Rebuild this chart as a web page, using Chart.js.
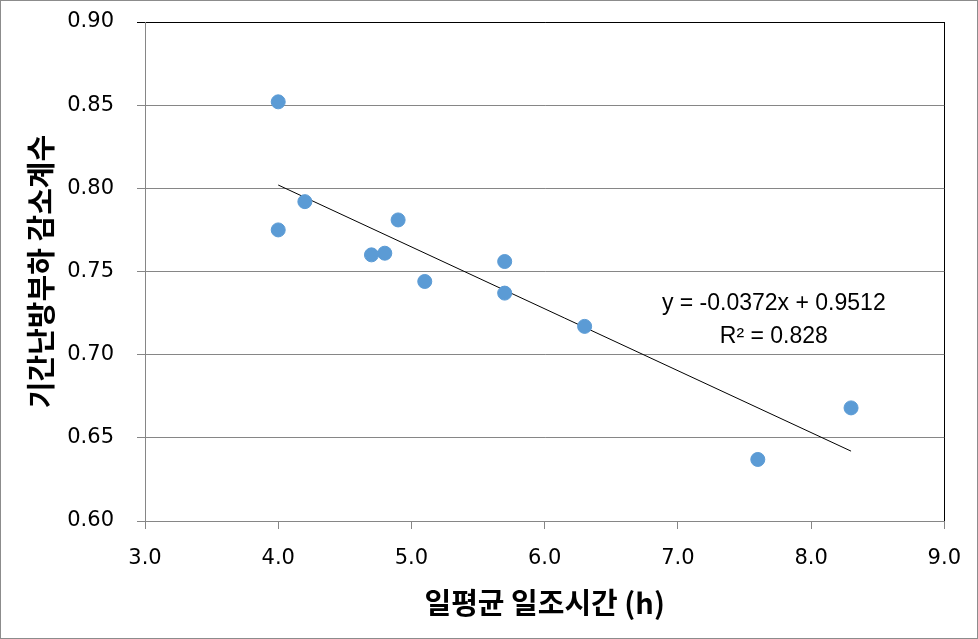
<!DOCTYPE html>
<html>
<head>
<meta charset="utf-8">
<script src="https://cdn.jsdelivr.net/npm/chart.js@4/dist/chart.umd.min.js"></script>
<style>
  body { margin: 0; background: #fff; }
  canvas { display: block; }
</style>
</head>
<body>
<canvas id="chart" width="978" height="639"></canvas>
<script>
// 일평균 일조시간 (h) vs 기간난방부하 감소계수
let sunHours = [4.0, 4.0, 4.2, 4.7, 4.8, 4.9, 5.1, 5.7, 5.7, 6.3, 7.6, 8.3];
let reduction = [0.852, 0.775, 0.792, 0.760, 0.761, 0.781, 0.744, 0.756, 0.737, 0.717, 0.637, 0.668];

// linear trendline end points (Excel trendline)
let trendX = [4.0, 8.3];
let trendY = [0.802, 0.642];
let trendLabel = ["y = -0.0372x + 0.9512", "R² = 0.828"];
let labelPos = [7.72, 0.7304, 0.7106];

let xTitle = "일평균 일조시간 (h)";
let yTitle = "기간난방부하 감소계수";

const tickFont = { family: "'DejaVu Sans', sans-serif", size: 21 };
const titleFont = { family: "'Noto Sans CJK KR', sans-serif", size: 29, weight: "bold" };

const frame = {
  id: "frame",
  beforeDraw(chart) {
    const c = chart.ctx;
    c.save();
    c.fillStyle = "#fff";
    c.fillRect(0, 0, chart.width, chart.height);
    c.strokeStyle = "#8c8c8c";
    c.lineWidth = 1;
    c.strokeRect(0.5, 0.5, chart.width - 1, chart.height - 1);
    c.restore();
  },
  afterDatasetsDraw(chart) {
    const c = chart.ctx;
    const xs = chart.scales.x, ys = chart.scales.y;
    c.save();
    c.fillStyle = "#000";
    c.font = "23px 'Liberation Sans', sans-serif";
    c.textAlign = "center";
    c.textBaseline = "middle";
    c.fillText(trendLabel[0], xs.getPixelForValue(labelPos[0]), ys.getPixelForValue(labelPos[1]));
    c.fillText(trendLabel[1], xs.getPixelForValue(labelPos[0]), ys.getPixelForValue(labelPos[2]));
    c.restore();
  }
};

new Chart("chart", {
  type: "scatter",
  data: {
    datasets: [{
      data: sunHours.map((x, i) => ({ x: x, y: reduction[i] })),
      backgroundColor: "#5b9bd5",
      borderColor: "#5b9bd5",
      pointRadius: 7,
      pointHoverRadius: 7,
      order: 1
    }, {
      type: "line",
      data: trendX.map((x, i) => ({ x: x, y: trendY[i] })),
      borderColor: "#000",
      borderWidth: 1,
      pointRadius: 0,
      fill: false,
      order: 2
    }]
  },
  options: {
    responsive: false,
    animation: false,
    layout: { padding: { top: 22, right: 33, left: 0, bottom: 0 } },
    plugins: { legend: { display: false }, tooltip: { enabled: false } },
    scales: {
      x: {
        type: "linear",
        min: 3, max: 9,
        afterFit(s) { s.height = 118; },
        ticks: {
          stepSize: 1,
          color: "#000",
          font: tickFont,
          padding: 17,
          callback: v => v.toFixed(1)
        },
        grid: {
          color: ctx => (ctx.tick && ctx.tick.value === 9) ? "#000" : "rgba(0,0,0,0)",
          tickColor: "#868686",
          tickLength: 8
        },
        border: { color: "#868686" },
        title: {
          display: true,
          text: xTitle,
          color: "#000",
          font: titleFont,
          padding: { top: 0, bottom: 19 }
        }
      },
      y: {
        min: 0.6, max: 0.9,
        afterFit(s) {
          s.width = 145;
          s.paddingTop = 0;
          s.paddingBottom = 0;
        },
        ticks: {
          stepSize: 0.05,
          color: "#000",
          font: tickFont,
          padding: 23,
          callback: v => v.toFixed(2)
        },
        grid: {
          color: ctx => (ctx.tick && Math.abs(ctx.tick.value - 0.9) < 1e-6) ? "#000" : "#868686",
          tickLength: 8
        },
        border: { color: "#868686" },
        title: {
          display: true,
          text: yTitle,
          color: "#000",
          font: titleFont,
          padding: { top: 24, bottom: 0 }
        }
      }
    }
  },
  plugins: [frame]
});
</script>
</body>
</html>
